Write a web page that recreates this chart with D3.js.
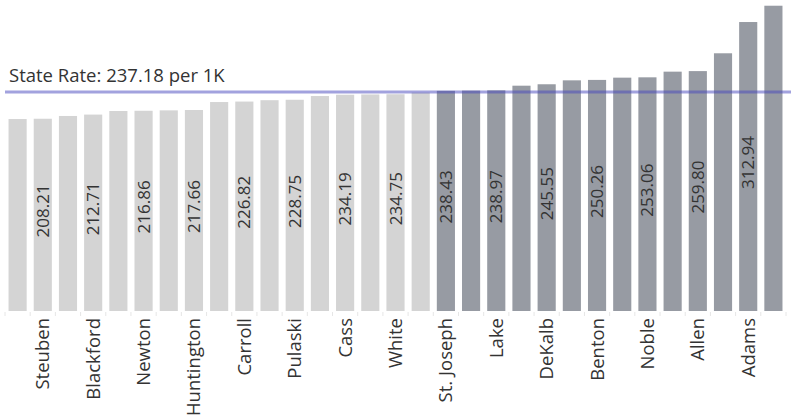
<!DOCTYPE html>
<html>
<head>
<meta charset="utf-8">
<script src="https://cdn.jsdelivr.net/npm/d3@7"></script>
<style>
  html, body { margin: 0; padding: 0; background: #fff; }
  svg { display: block; }
  text { font-family: "Open Sans", "Noto Sans", sans-serif; }
</style>
</head>
<body>
<svg id="chart" width="791" height="419"></svg>
<script>
// ---- data ----
const categories = ["", "Steuben", "", "Blackford", "", "Newton", "", "Huntington", "", "Carroll",
  "", "Pulaski", "", "Cass", "", "White", "", "St. Joseph", "", "Lake", "", "DeKalb", "",
  "Benton", "", "Noble", "", "Allen", "", "Adams", ""];
const values = [207.9, 208.21, 211.2, 212.71, 216.6, 216.86, 217.3, 217.66, 226.3, 226.82,
  228.3, 228.75, 232.8, 234.19, 234.5, 234.75, 236.6, 238.43, 238.7, 238.97, 244.0, 245.55,
  249.8, 250.26, 252.7, 253.06, 259.2, 259.80, 279.1, 312.94, 330.6];
const stateRate = 237.18;
const stateLabel = "State Rate: 237.18 per 1K";

// ---- layout ----
const svg = d3.select("#chart");
const baseY = 311;
const x = d3.scaleBand().domain(d3.range(values.length)).range([5, 786])
  .paddingInner(0.28).paddingOuter(0.14);
const y = d3.scaleLinear().domain([0, 336.8]).range([baseY, 0]);

const lightColor = "#d4d4d4";
const darkColor = "#979ba3";

// tick marks between bands
svg.append("g").selectAll("line").data(d3.range(values.length + 1)).join("line")
  .attr("x1", i => x(0) - x.step() * x.paddingInner() / 2 + i * x.step())
  .attr("x2", i => x(0) - x.step() * x.paddingInner() / 2 + i * x.step())
  .attr("y1", baseY + 1).attr("y2", baseY + 5)
  .attr("stroke", "#e6e6e6").attr("stroke-width", 1);

// bars
svg.append("g").selectAll("rect").data(values).join("rect")
  .attr("x", (d, i) => x(i))
  .attr("width", x.bandwidth())
  .attr("y", d => y(d))
  .attr("height", d => y(0) - y(d))
  .attr("fill", d => d > stateRate ? darkColor : lightColor);

// value labels (only for labelled categories)
svg.append("g").selectAll("text").data(values.map((v, i) => ({v, i})).filter(d => categories[d.i] !== ""))
  .join("text")
  .attr("transform", d => `translate(${x(d.i) + x.bandwidth() / 2 + 6},${(y(d.v) + y(0)) / 2 - 4}) rotate(-90)`)
  .attr("text-anchor", "middle")
  .attr("font-size", 17)
  .attr("fill", "#333")
  .text(d => d.v.toFixed(2));

// category labels
svg.append("g").selectAll("text").data(categories.map((c, i) => ({c, i})).filter(d => d.c !== ""))
  .join("text")
  .attr("transform", d => `translate(${x(d.i) + x.bandwidth() / 2 + 6.5},${baseY + 7}) rotate(-90)`)
  .attr("text-anchor", "end")
  .attr("font-size", 18.5)
  .attr("fill", "#333")
  .text(d => d.c);

// state rate line
svg.append("line")
  .attr("x1", 5).attr("x2", 791)
  .attr("y1", y(stateRate)).attr("y2", y(stateRate))
  .attr("stroke", "rgb(70,70,190)").attr("stroke-opacity", 0.5).attr("stroke-width", 3);

svg.append("text")
  .attr("x", 9).attr("y", y(stateRate) - 10)
  .attr("font-size", 18.5)
  .attr("fill", "#333")
  .text(stateLabel);
</script>
</body>
</html>
